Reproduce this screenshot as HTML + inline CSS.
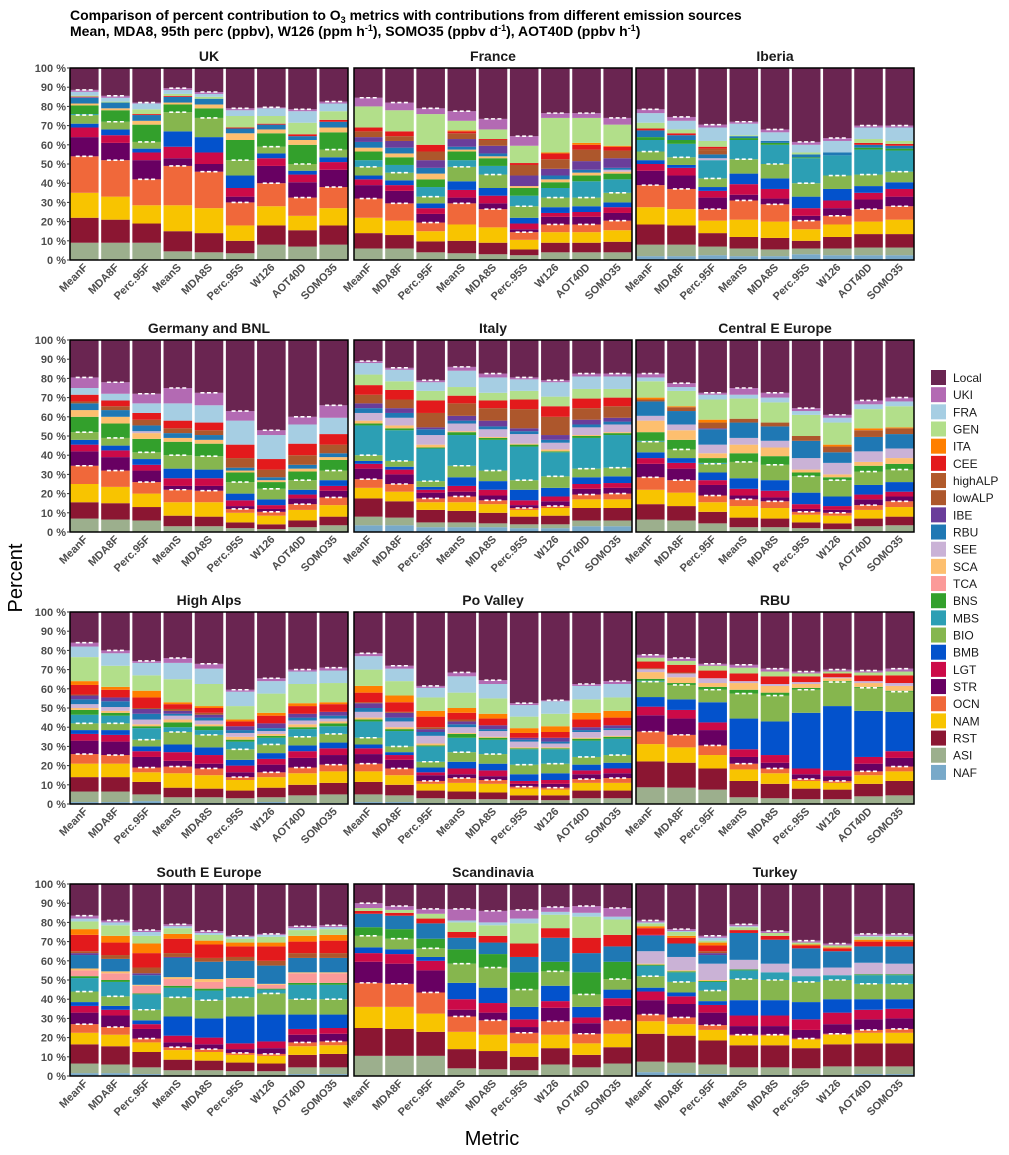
<!DOCTYPE html>
<html><head><meta charset="utf-8">
<style>
html,body{margin:0;padding:0;background:#fff;}
svg{display:block;font-family:"Liberation Sans",Arial,sans-serif;}
</style></head>
<body>
<svg id="chart" width="1009" height="1155" viewBox="0 0 1009 1155" xmlns="http://www.w3.org/2000/svg">
<text x="70" y="20" font-size="14" font-weight="bold" fill="#000">Comparison of percent  contribution to O<tspan font-size="9" dy="3">3</tspan><tspan dy="-3"> metrics with  contributions from different  emission sources</tspan></text>
<text x="70" y="36" font-size="14" font-weight="bold" fill="#000">Mean, MDA8, 95th perc (ppbv), W126 (ppm h<tspan font-size="9" dy="-5">-1</tspan><tspan dy="5">),  SOMO35 (ppbv d</tspan><tspan font-size="9" dy="-5">-1</tspan><tspan dy="5">), AOT40D (ppbv h</tspan><tspan font-size="9" dy="-5">-1</tspan><tspan dy="5">)</tspan></text>
<text x="0" y="0" transform="translate(22,578) rotate(-90)" text-anchor="middle" font-size="20" fill="#000">Percent</text>
<text x="492" y="1145" text-anchor="middle" font-size="20" fill="#000">Metric</text>
<g id="panels"></g>
<g id="legend"></g>
</svg>
<script>
// Source categories (bottom to top stacking); Local is the remainder to 100%
const sources = ["NAF","ASI","RST","NAM","OCN","STR","LGT","BMB","BIO","MBS","BNS","TCA","SCA","SEE","RBU","IBE","lowALP","highALP","CEE","ITA","GEN","FRA","UKI"];
const metrics = ["MeanF","MDA8F","Perc.95F","MeanS","MDA8S","Perc.95S","W126","AOT40D","SOMO35"];
const legendOrder = ["Local","UKI","FRA","GEN","ITA","CEE","highALP","lowALP","IBE","RBU","SEE","SCA","TCA","BNS","MBS","BIO","BMB","LGT","STR","OCN","NAM","RST","ASI","NAF"];
const yTicks = [0,10,20,30,40,50,60,70,80,90,100];
const dashAfter = ["OCN","BIO","UKI"];
const panelTitles = ["UK","France","Iberia","Germany and BNL","Italy","Central E Europe","High Alps","Po Valley","RBU","South E Europe","Scandinavia","Turkey"];

const ukValues = [
{ASI:9,RST:13,NAM:13,OCN:19,STR:10,LGT:5,BMB:2,BIO:4.5,MBS:0.5,BNS:4.5,SCA:1,RBU:3,IBE:0.3,CEE:0.3,GEN:0.5,FRA:2,UKI:1},
{ASI:9,RST:12,NAM:12,OCN:19,STR:9,LGT:4,BMB:3,BIO:4,BNS:6,SCA:1,RBU:3,GEN:0.5,FRA:2,UKI:1},
{ASI:9,RST:10,NAM:9.5,OCN:13.5,STR:10,LGT:4,BMB:2,BIO:3.5,BNS:9,SCA:2,RBU:3,CEE:0.5,GEN:2.5,FRA:3,UKI:0.5},
{ASI:4.5,RST:10.5,NAM:13.5,OCN:20.5,STR:4,LGT:6,BMB:8,BIO:10,BNS:4,SCA:1,RBU:3,CEE:0.5,GEN:1,FRA:2,UKI:1},
{ASI:4,RST:10,NAM:13,OCN:19,STR:4,LGT:6,BMB:8,BIO:10,BNS:5,SCA:2,RBU:3,GEN:1,FRA:1.5,UKI:1},
{ASI:3.5,RST:6.5,NAM:8,OCN:12,STR:3,LGT:4.5,BMB:6.5,BIO:8,BNS:10.5,SCA:3.5,RBU:2.5,CEE:0.5,GEN:6,FRA:3,UKI:1},
{ASI:8,RST:10,NAM:10,OCN:12,STR:9,LGT:4,BMB:2.5,BIO:3.5,BNS:7,SCA:2,RBU:2.5,CEE:0.5,GEN:4,FRA:4,UKI:0.5},
{ASI:7,RST:8.5,NAM:7.5,OCN:9.5,STR:8,LGT:4,BMB:2,BIO:3.5,BNS:10,SCA:2.5,RBU:2,CEE:1,GEN:6,FRA:6,UKI:1},
{ASI:8,RST:10,NAM:9,OCN:11,STR:9,LGT:4,BMB:2.5,BIO:4,BNS:9,SCA:2.5,RBU:3,CEE:1,GEN:4.5,FRA:4,UKI:1}
];
const franceValues = [
{ASI:6,RST:8,NAM:8,OCN:10,STR:7,LGT:3,BMB:2,BIO:4.5,MBS:3.5,BNS:4.5,SCA:2,RBU:3,IBE:2.5,lowALP:3,CEE:2,GEN:11,UKI:4.5},
{ASI:6,RST:7,NAM:7.5,OCN:9,STR:6.5,LGT:3,BMB:2.5,BIO:4,MBS:4,BNS:4,SCA:2,RBU:3,IBE:3.5,lowALP:2.5,CEE:2.5,GEN:11,UKI:4},
{ASI:4,RST:5.7,NAM:5.3,OCN:4.5,STR:4.5,LGT:3,BMB:2.5,BIO:3.5,MBS:5,BNS:4,SCA:3,RBU:3,IBE:4,lowALP:4.5,CEE:3.5,GEN:16,UKI:3},
{ASI:3.5,RST:6.5,NAM:8.5,OCN:11,STR:3,LGT:4,BMB:4.5,BIO:7.5,MBS:3.5,BNS:4.5,SCA:1,RBU:1.5,IBE:4,lowALP:3,CEE:1,ITA:0.5,GEN:5,UKI:5},
{ASI:3,RST:6,NAM:8,OCN:9.5,STR:3,LGT:4,BMB:4,BIO:7,MBS:4.5,BNS:4,SCA:1,RBU:1.5,IBE:4,lowALP:3,CEE:0.5,GEN:5,UKI:5.5},
{ASI:2.5,RST:3,NAM:5,OCN:4,STR:1.5,LGT:3,BMB:3,BIO:6,MBS:5.5,BNS:4,SCA:1,IBE:5.5,lowALP:5.5,CEE:1,GEN:9,UKI:5},
{ASI:4,RST:5,NAM:5.5,OCN:4,STR:4,LGT:2,BMB:3,BIO:5,MBS:5,BNS:3,SCA:1.5,RBU:2,IBE:3.5,lowALP:5,CEE:3,ITA:0.5,GEN:18,UKI:2.5},
{ASI:4,RST:5,NAM:5.5,OCN:4,STR:4,LGT:2.5,BMB:3,BIO:4.5,MBS:8.5,BNS:3,SCA:1.5,RBU:1.5,IBE:4.5,lowALP:6,CEE:2.5,ITA:1,GEN:13,UKI:2.5},
{ASI:4,RST:5.5,NAM:6,OCN:5,STR:4,LGT:3,BMB:2.5,BIO:5,MBS:7,BNS:3,SCA:1,SEE:1,RBU:1,IBE:5,lowALP:4,CEE:2,ITA:0.5,GEN:11,UKI:3.5}
];
const iberiaValues = [
{NAF:2,ASI:6,RST:10.5,NAM:9,OCN:11.5,STR:7.5,LGT:3.5,BMB:2,BIO:4.5,MBS:6,BNS:1.5,RBU:3.5,CEE:1,GEN:3,FRA:5,UKI:2},
{NAF:2,ASI:6,RST:10,NAM:8.5,OCN:10.5,STR:7,LGT:4,BMB:1.5,BIO:4,MBS:7,BNS:2,RBU:2.5,CEE:1,GEN:2,FRA:4.5,UKI:2},
{NAF:2.5,ASI:4.5,RST:7,NAM:6.5,OCN:6,STR:6,LGT:3.5,BMB:2,BIO:4.5,MBS:9.5,SEE:1,RBU:2,lowALP:2,highALP:1,CEE:1,GEN:3,FRA:7,UKI:1.5},
{NAF:2,ASI:4,RST:6,NAM:9,OCN:10,STR:3,LGT:5.5,BMB:5.5,BIO:7.5,MBS:10,BNS:1,RBU:1,GEN:0.5,FRA:6,UKI:1},
{NAF:2,ASI:3.5,RST:6,NAM:8.5,OCN:9,STR:3,LGT:5,BMB:5.5,BIO:7.5,MBS:10,BNS:1,RBU:1,FRA:4.5,UKI:1.5},
{NAF:3,ASI:3,RST:4,NAM:6,OCN:4.5,STR:2.5,LGT:4,BMB:6,BIO:7,MBS:13,BNS:0.5,RBU:1.5,GEN:1,FRA:4,UKI:1.5},
{NAF:2.5,ASI:3.5,RST:6,NAM:6.5,OCN:4.5,STR:4,LGT:4,BMB:6,BIO:7,MBS:10.5,RBU:1.5,FRA:6,UKI:1.5},
{NAF:2.5,ASI:4,RST:7,NAM:6.5,OCN:6.5,STR:5,LGT:3.5,BMB:3.5,BIO:6,MBS:13,BNS:1,RBU:1.5,CEE:1,GEN:2,FRA:6,UKI:1},
{NAF:2.5,ASI:4,RST:7,NAM:7.5,OCN:7,STR:5,LGT:4,BMB:3.5,BIO:5.5,MBS:11,BNS:1,RBU:1.5,CEE:1,GEN:1.5,FRA:7,UKI:1}
];
const germanyValues = [
{ASI:7,RST:8.5,NAM:9.5,OCN:9.5,STR:7.5,LGT:3.5,BMB:2.5,BIO:4,BNS:8,SCA:3.5,RBU:3.5,lowALP:1,CEE:3.5,FRA:3.5,UKI:5.5},
{ASI:6.5,RST:8.5,NAM:8.5,OCN:8.5,STR:7,LGT:3.5,BMB:2.5,BIO:4,BNS:7.5,SCA:3.5,RBU:3.5,lowALP:2,CEE:3,FRA:3.5,UKI:6},
{ASI:6,RST:7,NAM:7,OCN:6,STR:6,LGT:3,BMB:3,BIO:3.5,BNS:7,SCA:3,SEE:1,RBU:3,lowALP:3,CEE:3.5,FRA:5,UKI:5},
{ASI:3,RST:5.5,NAM:7,OCN:6.5,STR:2,LGT:4,BMB:5,BIO:7,BNS:7,SCA:2,RBU:2.5,lowALP:2.5,CEE:4,FRA:9,UKI:8},
{ASI:3,RST:5,NAM:7.5,OCN:6,STR:2.5,LGT:4,BMB:4.5,BIO:7,BNS:6.5,SCA:2,RBU:2.5,lowALP:2.5,CEE:4,FRA:9,UKI:6.5},
{ASI:2,RST:3,NAM:5,OCN:2,STR:1.5,LGT:3,BMB:3.5,BIO:6,BNS:5,SCA:1,RBU:1.5,lowALP:5,CEE:7,FRA:12.5,UKI:5},
{ASI:1.5,RST:2.5,NAM:4.5,OCN:2,STR:1.5,LGT:2,BMB:3,BIO:5.5,BNS:3.5,SCA:1,RBU:1.5,lowALP:4,CEE:5.5,FRA:12.5,UKI:2.5},
{ASI:2.5,RST:3.5,NAM:5.5,OCN:3,STR:3,LGT:2,BMB:2.5,BIO:5,BNS:4.5,SCA:1.5,RBU:2,lowALP:5,CEE:6,FRA:10,UKI:4},
{ASI:3.5,RST:4.5,NAM:6,OCN:4,STR:3.5,LGT:2.5,BMB:3,BIO:5,BNS:5.5,SCA:1.5,RBU:2,lowALP:4.5,CEE:5.5,FRA:8.5,UKI:6.5}
];
const italyValues = [
{NAF:3.5,ASI:4.5,RST:9.5,NAM:5.5,OCN:4.5,STR:5.5,LGT:2.5,BMB:1.5,BIO:3,MBS:15.5,BNS:1,SCA:1.5,SEE:4,RBU:2.5,IBE:2.5,lowALP:4.5,CEE:5,GEN:5.5,FRA:6,UKI:1},
{NAF:3.5,ASI:4,RST:8.5,NAM:5,OCN:4,STR:5,LGT:2.5,BMB:1.5,BIO:3,MBS:16,BNS:1,SCA:1.5,SEE:4,RBU:2.5,IBE:2.5,lowALP:4.5,CEE:5,GEN:4.5,FRA:6,UKI:1},
{NAF:2.5,ASI:2.5,RST:6.5,NAM:4,OCN:2,STR:3,LGT:1.5,BMB:1.5,BIO:3,MBS:17,BNS:0.5,SCA:1.5,SEE:5,RBU:3,IBE:1,lowALP:7.5,CEE:6.5,GEN:5,FRA:4.5,UKI:1},
{NAF:2.5,ASI:2.5,RST:6,NAM:4.5,OCN:3,STR:2.5,LGT:3,BMB:4.5,BIO:6,MBS:16,BNS:1.5,SCA:0.5,SEE:4,RBU:1.5,IBE:2.5,lowALP:6.5,CEE:4,GEN:4.5,FRA:8.5,UKI:2},
{NAF:2.5,ASI:2,RST:5.5,NAM:4.5,OCN:2,STR:2.5,LGT:3,BMB:4.5,BIO:5.5,MBS:16,BNS:1,SCA:0.5,SEE:4,RBU:1.5,IBE:3,lowALP:6.5,CEE:4,GEN:4,FRA:8,UKI:2},
{NAF:2,ASI:2,RST:4,NAM:3.5,OCN:1,STR:1.5,LGT:2.5,BMB:5.5,BIO:5,MBS:17.5,BNS:1,SCA:0.5,SEE:5,RBU:1.5,IBE:1.5,lowALP:10,CEE:5,GEN:4.5,FRA:6,UKI:1},
{NAF:2,ASI:2,RST:4.5,NAM:4,OCN:1,STR:2.5,LGT:2.5,BMB:4.5,BIO:6,MBS:12.5,BNS:0.5,SCA:1,SEE:3.5,RBU:1.5,IBE:2.5,lowALP:9.5,CEE:5.5,GEN:5,FRA:7.5,UKI:1},
{NAF:3,ASI:3,RST:6.5,NAM:4.5,OCN:2.5,STR:3,LGT:2.5,BMB:3.5,BIO:4.5,MBS:16,BNS:1,SCA:0.5,SEE:4,RBU:1.5,IBE:2.5,lowALP:6,CEE:5,GEN:5,FRA:6.5,UKI:1.5},
{NAF:3,ASI:3,RST:6.5,NAM:4.5,OCN:3,STR:3,LGT:2.5,BMB:3.5,BIO:4.5,MBS:17,BNS:1,SCA:0.5,SEE:4,RBU:1.5,IBE:2,lowALP:6,CEE:4.5,GEN:4.5,FRA:6.5,UKI:1.5}
];
const ceeValues = [
{ASI:6.5,RST:8,NAM:7.5,OCN:6.5,STR:7,LGT:3,BMB:3,BIO:5.5,MBS:0.5,BNS:4.5,SCA:6,SEE:2.5,RBU:7.5,lowALP:1,ITA:1,GEN:8.5,FRA:2,UKI:2},
{ASI:6,RST:7.5,NAM:7,OCN:6.5,STR:6,LGT:3,BMB:2.5,BIO:4.5,BNS:5,SCA:5,SEE:3,RBU:7,lowALP:2,ITA:0.5,GEN:8,FRA:2,UKI:2},
{ASI:4.5,RST:6,NAM:5,OCN:3.5,STR:5.5,LGT:2.5,BMB:4,BIO:4.5,MBS:0.5,BNS:2.5,SCA:2.5,SEE:4.5,RBU:8,IBE:0.5,lowALP:3,ITA:1.5,GEN:10.5,FRA:2.5,UKI:1},
{ASI:2.5,RST:5,NAM:6,OCN:3.5,STR:2,LGT:3.5,BMB:5.5,BIO:8.5,BNS:4.5,SCA:4.5,SEE:3.5,RBU:8,lowALP:2,GEN:10.5,FRA:2,UKI:3.5},
{ASI:2.5,RST:4.5,NAM:5.5,OCN:3.5,STR:2,LGT:3.5,BMB:5.5,BIO:8,BNS:4.5,SCA:4.5,SEE:3.5,RBU:7.5,lowALP:2,GEN:10.5,FRA:2.5,UKI:2.5},
{ASI:2,RST:3,NAM:4,OCN:1.5,STR:1.5,LGT:2.5,BMB:6,BIO:8.5,BNS:2,SCA:1.5,SEE:6,RBU:9,lowALP:2.5,GEN:11,FRA:2,UKI:1.5},
{ASI:1.5,RST:3,NAM:4,OCN:1.5,STR:1.5,LGT:2,BMB:5,BIO:8.5,BNS:1.5,SCA:1.5,SEE:6,RBU:5.5,lowALP:3,ITA:1,GEN:11.5,FRA:2.5,UKI:1.5},
{ASI:3,RST:4,NAM:4.5,OCN:2.5,STR:3,LGT:2.5,BMB:5,BIO:7,BNS:3,SCA:2,SEE:5.5,RBU:7.5,lowALP:3.5,ITA:1,GEN:10,FRA:2.5,UKI:2},
{ASI:3.5,RST:4.5,NAM:5,OCN:3,STR:2.5,LGT:2.5,BMB:5,BIO:6.5,BNS:3,SCA:3,SEE:5,RBU:7.5,lowALP:3,ITA:0.5,GEN:11,FRA:2.5,UKI:2}
];
const highAlpsValues = [
{NAF:1,ASI:5.5,RST:7.5,NAM:7,OCN:5,STR:7,LGT:3.5,BMB:2,BIO:3.5,MBS:4.5,BNS:2.5,SCA:1,SEE:2,RBU:2.5,IBE:2,lowALP:0.5,CEE:5,ITA:2,GEN:12.5,FRA:5.5,UKI:2},
{NAF:1,ASI:5.5,RST:7.5,NAM:7,OCN:4.5,STR:7,LGT:3.5,BMB:2.5,BIO:3.5,MBS:4,BNS:1.5,SCA:1,SEE:2,RBU:3,IBE:2,CEE:4,ITA:1.5,GEN:11,FRA:6.5,UKI:1.5},
{NAF:1.5,ASI:3.5,RST:6.5,NAM:5,OCN:2.5,STR:5.5,LGT:3,BMB:2.5,BIO:3.5,MBS:6,BNS:1,SCA:1,SEE:2.5,RBU:3,IBE:2.5,lowALP:0.5,CEE:5.5,ITA:3.5,GEN:8,FRA:6.5,UKI:1},
{NAF:0.5,ASI:3,RST:5,NAM:7.5,OCN:3.5,STR:3,LGT:4.5,BMB:4,BIO:6.5,MBS:2.5,BNS:2.5,SCA:1.5,SEE:2,RBU:1,IBE:1.5,lowALP:1,CEE:2.5,ITA:1,GEN:12,FRA:8.5,UKI:2.5},
{NAF:0.5,ASI:3,RST:4.5,NAM:7,OCN:3.5,STR:2.5,LGT:4.5,BMB:4,BIO:6.5,MBS:2.5,BNS:2,SCA:1,SEE:2,RBU:1.5,IBE:1.5,lowALP:1,CEE:2.5,ITA:1,GEN:11.5,FRA:8,UKI:2.5},
{NAF:0.5,ASI:2.5,RST:4,NAM:5.5,OCN:1.5,STR:2.5,LGT:3.5,BMB:3,BIO:5.5,MBS:4,BNS:1,SCA:1.5,SEE:2,RBU:1.5,IBE:2,CEE:2.5,ITA:1,GEN:7,FRA:7.5,UKI:1},
{NAF:1,ASI:2.5,RST:5,NAM:5.5,OCN:2.5,STR:4,LGT:3,BMB:3,BIO:4.5,MBS:3.5,BNS:1,SCA:1,SEE:1.5,RBU:1.5,IBE:2.5,CEE:4,ITA:1.5,GEN:10,FRA:6.5,UKI:1.5},
{NAF:0.5,ASI:4,RST:5.5,NAM:6,OCN:3,STR:5,LGT:3.5,BMB:3,BIO:4.5,MBS:4,BNS:1,SCA:1.5,SEE:2,RBU:1.5,IBE:2,CEE:4,ITA:1.5,GEN:10,FRA:6.5,UKI:1},
{NAF:0.5,ASI:4.5,RST:6,NAM:6,OCN:3.5,STR:5,LGT:3.5,BMB:3,BIO:4.5,MBS:4,BNS:1.5,SCA:1,SEE:1.5,RBU:1.5,IBE:2,CEE:4,ITA:1,GEN:10,FRA:6.5,UKI:1.5}
];
const poValleyValues = [
{NAF:1,ASI:4,RST:6.5,NAM:5.5,OCN:4,STR:5,LGT:3,BMB:2,BIO:3.5,MBS:8.5,BNS:1,SCA:1,SEE:3,RBU:2,IBE:2.5,lowALP:0.5,CEE:5,ITA:3.5,GEN:8.5,FRA:7,UKI:1.5},
{NAF:1,ASI:3.5,RST:5.5,NAM:5,OCN:3.5,STR:4.5,LGT:2.5,BMB:1.5,BIO:3,MBS:8,BNS:1,SCA:1,SEE:3,RBU:2,IBE:2.5,lowALP:0.5,CEE:5,ITA:3.5,GEN:7.5,FRA:6.5,UKI:1.5},
{NAF:0.5,ASI:2.5,RST:4,NAM:3.5,OCN:1.5,STR:3,LGT:1.5,BMB:2.5,BIO:3,MBS:8,BNS:0.5,SCA:1,SEE:4,RBU:2,IBE:1.5,lowALP:1,CEE:5.5,ITA:3,GEN:7,FRA:5,UKI:1},
{NAF:0.5,ASI:2,RST:4,NAM:4.5,OCN:2.5,STR:2,LGT:3,BMB:3.5,BIO:5,MBS:7.5,BNS:2,SCA:0.5,SEE:3,RBU:1.5,IBE:1.5,lowALP:1,CEE:3.5,ITA:2.5,GEN:8,FRA:8.5,UKI:2},
{NAF:0.5,ASI:2,RST:3.5,NAM:4.5,OCN:2,STR:2,LGT:3,BMB:3.5,BIO:5,MBS:7.5,BNS:1,SCA:0.5,SEE:3,RBU:1,IBE:2,CEE:3.5,ITA:2.5,GEN:8,FRA:7.5,UKI:2},
{NAF:0.5,ASI:1.5,RST:2.5,NAM:3.5,OCN:1,STR:1.5,LGT:1.5,BMB:3.5,BIO:5,MBS:8,BNS:0.5,SCA:0.5,SEE:3,RBU:1,IBE:1,CEE:2.5,ITA:2.5,GEN:6,FRA:6,UKI:1},
{NAF:0.5,ASI:1.5,RST:2.5,NAM:3,OCN:1,STR:2,LGT:2,BMB:3.5,BIO:5,MBS:7.5,BNS:0.5,SCA:0.5,SEE:2,RBU:1,IBE:2,CEE:3,ITA:3,GEN:6.5,FRA:6.5,UKI:0.5},
{NAF:0.5,ASI:2.5,RST:4,NAM:4,OCN:2,STR:2.5,LGT:2,BMB:3,BIO:4,MBS:8.5,BNS:1,SCA:0.5,SEE:3,RBU:1,IBE:1.5,CEE:4,ITA:3.5,GEN:7,FRA:7,UKI:1},
{NAF:0.5,ASI:2.5,RST:4,NAM:4,OCN:2.5,STR:2.5,LGT:2.5,BMB:3,BIO:4,MBS:8.5,BNS:1,SCA:0.5,SEE:3,RBU:1,IBE:1.5,CEE:4,ITA:3.5,GEN:7,FRA:7,UKI:1.5}
];
const rbuValues = [
{ASI:8.7,RST:13.5,NAM:9,OCN:6.5,STR:8.5,LGT:4.5,BMB:5,BIO:8,MBS:0.5,BNS:1,SCA:3.5,SEE:1.5,lowALP:0.5,CEE:3.5,GEN:2,UKI:1.5},
{ASI:8.5,RST:13,NAM:8,OCN:6.5,STR:8.5,LGT:4.5,BMB:5.5,BIO:7.5,BNS:1,SCA:3,SEE:2,lowALP:0.5,CEE:4,GEN:2,UKI:1.5},
{ASI:7.5,RST:11,NAM:7,OCN:5,STR:8,LGT:4,BMB:10.5,BIO:6.5,BNS:1.5,SCA:2,SEE:2.5,CEE:4,GEN:2.5,UKI:1},
{ASI:3.5,RST:8.5,NAM:6,OCN:3,STR:3.5,LGT:4,BMB:16,BIO:13,BNS:2,SCA:3.5,SEE:1,CEE:4,GEN:3,UKI:1.5},
{ASI:3,RST:7.5,NAM:5.5,OCN:2.5,STR:3,LGT:4,BMB:17.5,BIO:13.5,BNS:1.5,SCA:3.5,SEE:1,CEE:4,GEN:2.5,UKI:1.5},
{ASI:2.5,RST:5.5,NAM:4,OCN:1,STR:2.5,LGT:3,BMB:29,BIO:12,BNS:1,SCA:2,SEE:1,CEE:3,GEN:1.5,UKI:1},
{ASI:2.5,RST:5,NAM:3.5,OCN:1,STR:2.5,LGT:3,BMB:33.5,BIO:12.5,BNS:0.5,SCA:1.5,SEE:0.5,CEE:2,GEN:1,UKI:1},
{ASI:4,RST:6.5,NAM:4.5,OCN:2,STR:4,LGT:3.5,BMB:24,BIO:12,BNS:0.5,SCA:2,SEE:1,CEE:3,GEN:1.5,UKI:1},
{ASI:4.5,RST:7.5,NAM:5,OCN:2.5,STR:4.5,LGT:3.5,BMB:20.5,BIO:10.5,BNS:0.5,SCA:2.5,SEE:1.5,CEE:4,GEN:2,UKI:1.5}
];
const seeValues = [
{NAF:1.5,ASI:5,RST:10,NAM:6,OCN:4.5,STR:6,LGT:3.5,BMB:2,BIO:5.5,MBS:7,BNS:1,TCA:3,SCA:1,RBU:7,IBE:1,lowALP:1,CEE:8.5,ITA:3,GEN:4,FRA:1.5,UKI:1.5},
{NAF:1.5,ASI:4.5,RST:9.5,NAM:6,OCN:4,STR:6,LGT:3,BMB:2,BIO:5,MBS:7.5,BNS:1,TCA:3.5,SCA:1,RBU:6.5,lowALP:2,CEE:6.5,ITA:3.5,GEN:5.5,FRA:1.5,UKI:1},
{NAF:1,ASI:3.5,RST:8,NAM:5,OCN:2,STR:5,LGT:2.5,BMB:2,BIO:5.5,MBS:8,BNS:0.5,TCA:4,SCA:0.5,RBU:5,IBE:1,lowALP:3,CEE:7.5,ITA:5,GEN:4,FRA:2,UKI:1},
{ASI:3,RST:5.5,NAM:5,OCN:1.5,STR:2.5,LGT:3.5,BMB:10,BIO:10,MBS:5,BNS:1,TCA:3.5,SCA:1,RBU:10,IBE:0.5,lowALP:2,CEE:7.5,ITA:2.5,GEN:3,FRA:1,UKI:1},
{ASI:3,RST:5,NAM:4.5,OCN:1.5,STR:2.5,LGT:3.5,BMB:10,BIO:9.5,MBS:5,BNS:1,TCA:3.5,SCA:1.5,RBU:9,lowALP:2,CEE:7,ITA:2,GEN:3,FRA:1,UKI:1},
{ASI:2.5,RST:4.5,NAM:4,OCN:1,STR:2,LGT:3,BMB:14,BIO:10,MBS:5,BNS:0.5,TCA:4,SCA:0.5,RBU:9,lowALP:2,CEE:5.5,ITA:2,GEN:2,FRA:1,UKI:0.5},
{ASI:2.5,RST:4,NAM:4,OCN:1,STR:3,LGT:3.5,BMB:14,BIO:11,MBS:2,BNS:0.5,TCA:2,SCA:0.5,RBU:9.5,lowALP:2.5,CEE:7.5,ITA:2,GEN:3,FRA:1,UKI:0.5},
{NAF:1,ASI:3.5,RST:6.5,NAM:4.5,OCN:2,STR:4,LGT:3,BMB:7.5,BIO:8,MBS:7.5,BNS:1,TCA:5,SCA:0.5,RBU:7.5,lowALP:2.5,CEE:6,ITA:3,GEN:3,FRA:1,UKI:1},
{NAF:1,ASI:3.5,RST:7,NAM:4.5,OCN:2,STR:4,LGT:3,BMB:7,BIO:8,MBS:7.5,BNS:1,TCA:5,SCA:0.5,RBU:7.5,lowALP:2.5,CEE:6.5,ITA:3,GEN:3,FRA:1,UKI:1}
];
const scandinaviaValues = [
{ASI:10.5,RST:14.5,NAM:11,OCN:12.5,STR:11,LGT:4.5,BMB:3,BIO:6,BNS:4.5,RBU:7,CEE:1.5,GEN:1.5,UKI:2.5},
{ASI:10.5,RST:14,NAM:11.5,OCN:12,STR:10.5,LGT:5,BMB:2.5,BIO:5.5,BNS:5,RBU:7,CEE:1.5,GEN:1.5,UKI:2},
{ASI:10.5,RST:12.5,NAM:9.5,OCN:11,STR:11.5,LGT:5,BMB:2,BIO:4.5,BNS:5,RBU:8,CEE:2.5,GEN:2.5,UKI:2.5},
{ASI:4,RST:10,NAM:9,OCN:8,STR:3.5,LGT:5.5,BMB:8.5,BIO:10,BNS:7.5,RBU:6,CEE:3,GEN:5,FRA:1,UKI:6},
{ASI:3.5,RST:9.5,NAM:8.5,OCN:7.5,STR:4,LGT:5,BMB:8,BIO:10.5,BNS:7,RBU:6,CEE:3.5,GEN:5.5,FRA:1.5,UKI:6},
{ASI:3,RST:7,NAM:7,OCN:5.5,STR:3,LGT:4,BMB:6.5,BIO:9,BNS:9,RBU:8,CEE:7,GEN:10.5,FRA:2.5,UKI:4.5},
{ASI:6,RST:8.5,NAM:7,OCN:7,STR:7,LGT:3.5,BMB:8,BIO:7.5,BNS:5,RBU:12.5,CEE:5,GEN:7,FRA:1.5,UKI:2.5},
{ASI:4.5,RST:6.5,NAM:6,OCN:5,STR:5.5,LGT:3,BMB:5.5,BIO:6.5,BNS:11.5,RBU:10,CEE:8,GEN:11,FRA:2,UKI:3.5},
{ASI:6.5,RST:8.5,NAM:7,OCN:7,STR:7.5,LGT:4,BMB:4.5,BIO:5.5,BNS:9,RBU:8,CEE:6,GEN:8,FRA:1.5,UKI:4.5}
];
const turkeyValues = [
{NAF:2,ASI:5.5,RST:14.5,NAM:6.5,OCN:3.5,STR:7.5,LGT:4.5,BMB:2,BIO:6,MBS:5.5,BNS:0.5,SCA:0.5,SEE:6.5,RBU:8,IBE:0.5,CEE:3.5,ITA:1,GEN:1.5,FRA:0.5,UKI:1},
{NAF:1.5,ASI:5.5,RST:14,NAM:6,OCN:3.5,STR:7,LGT:4,BMB:2,BIO:5.5,MBS:5,BNS:0.5,SCA:0.5,SEE:7,RBU:7,CEE:3,ITA:1,GEN:2,FRA:0.5,UKI:1},
{NAF:1,ASI:5,RST:12.5,NAM:5.5,OCN:2.5,STR:6.5,LGT:4,BMB:2,BIO:5.5,MBS:4.5,BNS:0.5,SCA:0.5,SEE:8.5,RBU:4.5,IBE:1,lowALP:1,CEE:3,ITA:1.5,GEN:1,FRA:1.5,UKI:1},
{NAF:0.5,ASI:4,RST:11.5,NAM:5,OCN:0.5,STR:4.5,LGT:5.5,BMB:8,BIO:11,MBS:4.5,BNS:0.5,SEE:5,RBU:14,CEE:1.5,GEN:1.5,FRA:0.5,UKI:1},
{NAF:0.5,ASI:4,RST:11.5,NAM:5,OCN:0.5,STR:4.5,LGT:5.5,BMB:8,BIO:10.5,MBS:4,SEE:4.5,RBU:12.5,CEE:2,GEN:1.5,UKI:1},
{ASI:4,RST:10.5,NAM:4.5,OCN:0.5,STR:4.5,LGT:5.5,BMB:9,BIO:10.5,MBS:3,SEE:4,RBU:10.5,CEE:1.5,ITA:0.5,GEN:1,UKI:1},
{ASI:5,RST:11.5,NAM:5,OCN:0.5,STR:5,LGT:6,BMB:7,BIO:10,MBS:2.5,SEE:4,RBU:8.5,CEE:1.5,ITA:0.5,GEN:1,UKI:1},
{NAF:1,ASI:4,RST:12,NAM:5.5,OCN:1.5,STR:5.5,LGT:5,BMB:5.5,BIO:8,MBS:4.5,BNS:0.5,SEE:6,RBU:8.5,CEE:2.5,ITA:1,GEN:1.5,FRA:0.5,UKI:1},
{NAF:1,ASI:4,RST:12,NAM:5.5,OCN:2,STR:5.5,LGT:5,BMB:5,BIO:8,MBS:4.5,BNS:0.5,SEE:5.5,RBU:9,CEE:2.5,ITA:1,GEN:1.5,FRA:0.5,UKI:1}
];
const panelData = [ukValues,franceValues,iberiaValues,germanyValues,italyValues,ceeValues,highAlpsValues,poValleyValues,rbuValues,seeValues,scandinaviaValues,turkeyValues];

const colors = {Local:"#6a2551",UKI:"#b36ab3",FRA:"#a6cee3",GEN:"#b2df8a",ITA:"#ff7f00",CEE:"#e31a1c",highALP:"#b15a2b",lowALP:"#ad572c",IBE:"#6a3d9a",RBU:"#1f78b4",SEE:"#cab2d6",SCA:"#fdbf6f",TCA:"#fb9a99",BNS:"#33a02c",MBS:"#2c9fb4",BIO:"#86b64e",BMB:"#0352cc",LGT:"#cc0a48",STR:"#680062",OCN:"#f0683a",NAM:"#f8c400",RST:"#8b1632",ASI:"#9caf8d",NAF:"#78a9c9"};

const NS="http://www.w3.org/2000/svg";
function el(tag, attrs, parent){const e=document.createElementNS(NS,tag);for(const k in attrs)e.setAttribute(k,attrs[k]);if(parent)parent.appendChild(e);return e;}

const colX=[70,354,636], rowY=[68,340,612,884], PW=278, PH=192;
const panelsG=document.getElementById('panels');

panelData.forEach((bars,pi)=>{
  const col=pi%3,row=Math.floor(pi/3);
  const x0=colX[col],y0=rowY[row];
  const yScale=v=>y0+PH-v/100*PH;
  const gap=2.6, bw=(PW-gap*(metrics.length-1))/metrics.length;
  const xScale=i=>x0+i*(bw+gap);
  const g=el('g',{},panelsG);
  
  
  const t=el('text',{x:x0+PW/2,y:y0-7,'text-anchor':'middle','font-size':14,'font-weight':'bold',fill:'#1a1a1a'},g);
  t.textContent=panelTitles[pi];
  
  
  el('rect',{x:x0,y:y0,width:PW,height:PH,fill:'#fff'},g);
  bars.forEach((vals,bi)=>{
    const bx=xScale(bi);
    let cum=0; const dashes=[];
    const bg=el('g',{},g);
    
    
    sources.forEach(s=>{
      const v=vals[s]||0;
      if(v>0){
        const r=el('rect',{x:bx,y:yScale(cum+v),width:bw,height:yScale(cum)-yScale(cum+v),fill:colors[s]},bg);
        
        
      }
      cum+=v;
      if(dashAfter.includes(s))dashes.push(cum);
    });
    const loc=Math.max(0,100-cum);
    const lr=el('rect',{x:bx,y:yScale(100),width:bw,height:yScale(cum)-yScale(100),fill:colors.Local},bg);
    
    
    dashes.forEach(d=>{
      const ln=el('line',{x1:bx+bw*0.2,x2:bx+bw*0.8,y1:yScale(d),y2:yScale(d),stroke:'#fff','stroke-width':1.6,'stroke-dasharray':'4,2.5'},bg);
      
      
    });
    const xl=el('text',{transform:`translate(${bx+bw/2+4},${y0+PH+8}) rotate(-45)`,'text-anchor':'end','font-size':11,'font-weight':'bold',fill:'#4d4d4d'},g);
    xl.textContent=metrics[bi];
    
    
  });
  el('rect',{x:x0,y:y0,width:PW,height:PH,fill:'none',stroke:'#000','stroke-width':1.5},g);
  if(col===0){
    yTicks.forEach(v=>{
      el('line',{x1:x0-3,x2:x0,y1:yScale(v),y2:yScale(v),stroke:'#333','stroke-width':1},g);
      const yl=el('text',{x:x0-4,y:yScale(v)+4,'text-anchor':'end','font-size':11,'font-weight':'bold',fill:'#4d4d4d'},g);
      yl.textContent=v+' %';
      
      
    });
  }
});

const lg=document.getElementById('legend');
legendOrder.forEach((s,i)=>{
  const y=370+i*17.17;
  const it=el('g',{},lg);
  
  
  el('rect',{x:931,y:y,width:15,height:15,fill:colors[s]},it);
  const tx=el('text',{x:953,y:y+12,'font-size':12,fill:'#1a1a1a'},it);
  tx.textContent=s;
});
</script>
</body></html>
